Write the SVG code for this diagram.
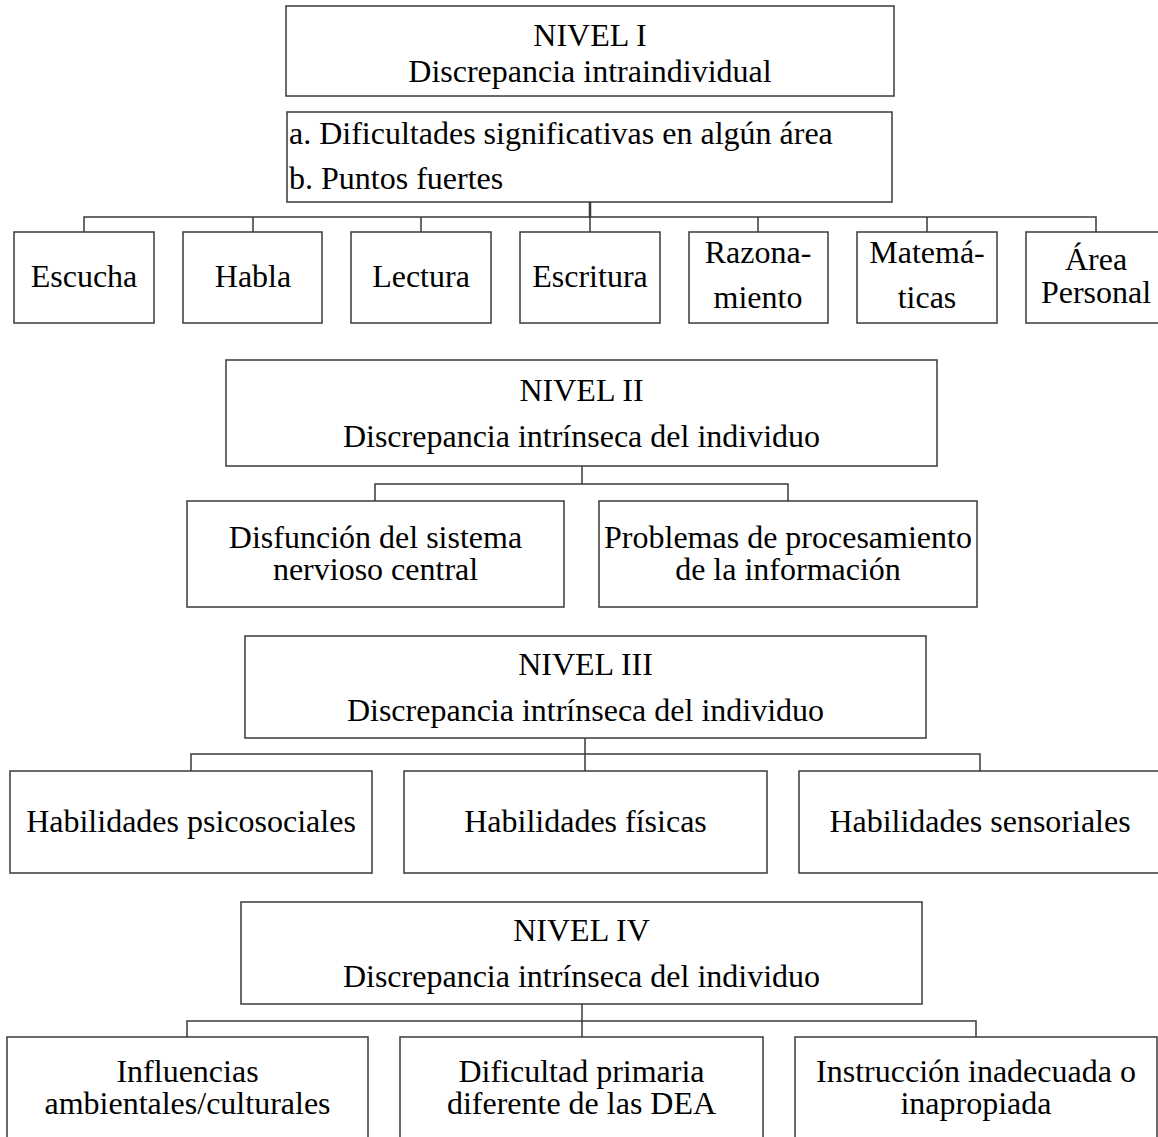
<svg xmlns="http://www.w3.org/2000/svg" width="1158" height="1137" viewBox="0 0 1158 1137">
<style>
rect{fill:#fff;stroke:#3a3a3a;stroke-width:1.5}
text{font-family:"Liberation Serif","Times New Roman",serif;font-size:32px;fill:#000}
.c{text-anchor:middle}
#connectors path{fill:none;stroke:#3a3a3a;stroke-width:1.5}
</style>
<rect x="0" y="0" width="1158" height="1137" style="fill:#fff;stroke:none"/>
<g id="connectors">
<path d="M590 202V217M84 232V217H1096V232M253 217V232M421 217V232M590 217V232M758 217V232M927 217V232" style="stroke-width:1.5"/>
<path d="M590 202V217" style="stroke-width:2.5"/>
<path d="M582 466V484M375 501V484H788V501"/>
<path d="M585 738V771M191 771V754H980V771"/>
<path d="M582 1004V1037M187 1037V1021H976V1037"/>
</g>
<g id="nivel1">
<rect x="286" y="6" width="608" height="90"/>
<text class="c" x="590" y="46">NIVEL I</text>
<text class="c" x="590" y="82">Discrepancia intraindividual</text>
</g>
<g id="nivel1-desc">
<rect x="287" y="112" width="605" height="90"/>
<text x="289" y="144">a. Dificultades significativas en algún área</text>
<text x="289" y="189">b. Puntos fuertes</text>
</g>
<g id="escucha"><rect x="14" y="232" width="140" height="91"/><text class="c" x="84" y="287">Escucha</text></g>
<g id="habla"><rect x="183" y="232" width="139" height="91"/><text class="c" x="253" y="287">Habla</text></g>
<g id="lectura"><rect x="351" y="232" width="140" height="91"/><text class="c" x="421" y="287">Lectura</text></g>
<g id="escritura"><rect x="520" y="232" width="140" height="91"/><text class="c" x="590" y="287">Escritura</text></g>
<g id="razonamiento"><rect x="689" y="232" width="139" height="91"/><text class="c" x="758" y="263">Razona-</text><text class="c" x="758" y="308">miento</text></g>
<g id="matematicas"><rect x="857" y="232" width="140" height="91"/><text class="c" x="927" y="263">Matemá-</text><text class="c" x="927" y="308">ticas</text></g>
<g id="area-personal"><rect x="1026" y="232" width="140" height="91"/><text class="c" x="1096" y="270">Área</text><text class="c" x="1096" y="303">Personal</text></g>
<g id="nivel2">
<rect x="226" y="360" width="711" height="106"/>
<text class="c" x="581.5" y="401">NIVEL II</text>
<text class="c" x="581.5" y="447">Discrepancia intrínseca del individuo</text>
</g>
<g id="disfuncion"><rect x="187" y="501" width="377" height="106"/><text class="c" x="375.5" y="548">Disfunción del sistema</text><text class="c" x="375.5" y="580">nervioso central</text></g>
<g id="procesamiento"><rect x="599" y="501" width="378" height="106"/><text class="c" x="788" y="548">Problemas de procesamiento</text><text class="c" x="788" y="580">de la información</text></g>
<g id="nivel3">
<rect x="245" y="636" width="681" height="102"/>
<text class="c" x="585.5" y="675">NIVEL III</text>
<text class="c" x="585.5" y="721">Discrepancia intrínseca del individuo</text>
</g>
<g id="psicosociales"><rect x="10" y="771" width="362" height="102"/><text class="c" x="191" y="832">Habilidades psicosociales</text></g>
<g id="fisicas"><rect x="404" y="771" width="363" height="102"/><text class="c" x="585.5" y="832">Habilidades físicas</text></g>
<g id="sensoriales"><rect x="799" y="771" width="362" height="102"/><text class="c" x="980" y="832">Habilidades sensoriales</text></g>
<g id="nivel4">
<rect x="241" y="902" width="681" height="102"/>
<text class="c" x="581.5" y="941">NIVEL IV</text>
<text class="c" x="581.5" y="987">Discrepancia intrínseca del individuo</text>
</g>
<g id="ambientales"><rect x="7" y="1037" width="361" height="110"/><text class="c" x="187.5" y="1082">Influencias</text><text class="c" x="187.5" y="1114">ambientales/culturales</text></g>
<g id="primaria"><rect x="400" y="1037" width="363" height="110"/><text class="c" x="581.5" y="1082">Dificultad primaria</text><text class="c" x="581.5" y="1114">diferente de las DEA</text></g>
<g id="instruccion"><rect x="795" y="1037" width="362" height="110"/><text class="c" x="976" y="1082">Instrucción inadecuada o</text><text class="c" x="976" y="1114">inapropiada</text></g>
</svg>
